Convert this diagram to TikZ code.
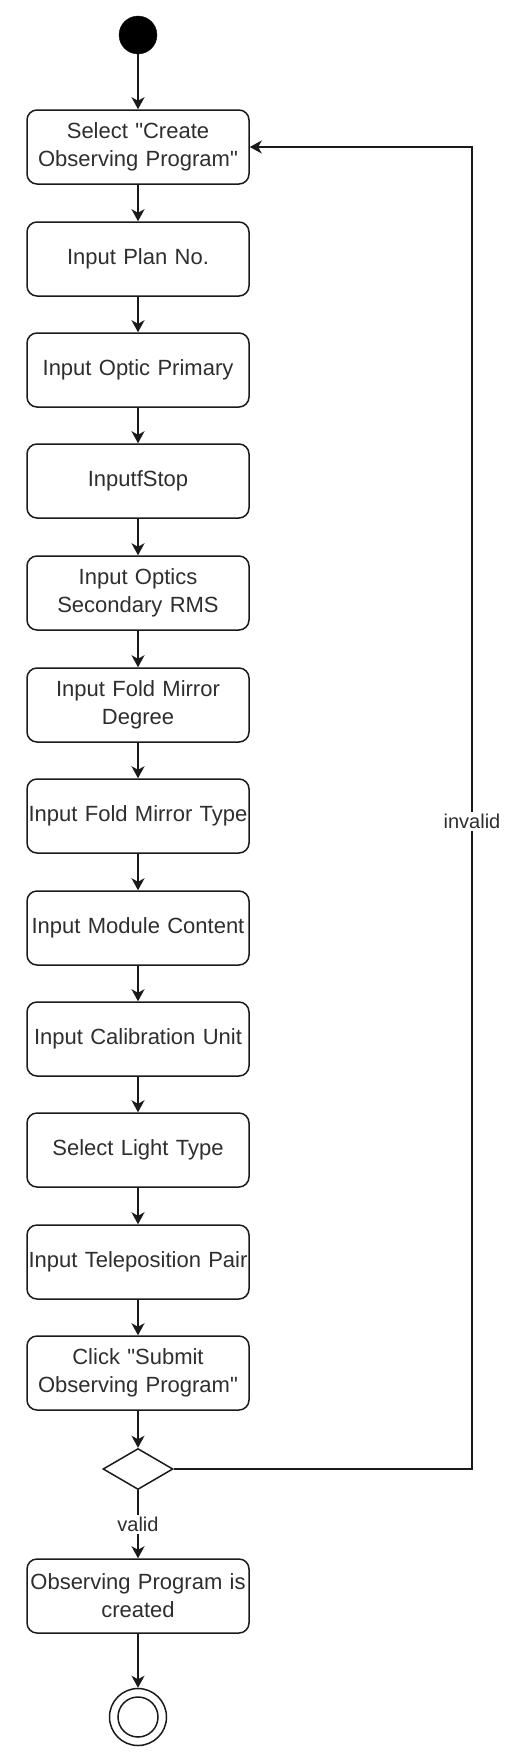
\documentclass[tikz,border=0pt]{standalone}
\usepackage{fontspec}
\newfontfamily\af{Liberation Sans}
\usetikzlibrary{shapes.geometric,arrows.meta}
\definecolor{txt}{HTML}{2E2E2E}
\definecolor{ln}{HTML}{1A1A1A}
\begin{document}
\begin{tikzpicture}[x=1pt,y=-1pt,
  actbox/.style={draw=ln,line width=1.5pt,rounded corners=10pt,minimum width=222pt,minimum height=74pt,inner sep=0pt,align=center,text=txt,font=\af\fontsize{22}{28}\selectfont,text width=222pt},
  flow/.style={draw=ln,line width=1.5pt,-{Stealth[length=12pt,width=13pt,inset=3.5pt]}},
  lbl/.style={fill=white,text=txt,font=\af\fontsize{20}{24}\selectfont,inner sep=2pt}]
\useasboundingbox (0,0) rectangle (520,1756);
\node[circle,fill=black,draw=ln,minimum size=38pt,inner sep=0pt] (start) at (138,35) {};
\node[actbox] (b1) at (138,147) {Select "Create\\Observing Program"};
\node[actbox] (b2) at (138,259) {Input Plan No.};
\node[actbox] (b3) at (138,370) {Input Optic Primary};
\node[actbox] (b4) at (138,481) {InputfStop};
\node[actbox] (b5) at (138,593) {Input Optics\\Secondary RMS};
\node[actbox] (b6) at (138,705) {Input Fold Mirror\\Degree};
\node[actbox] (b7) at (138,816) {Input Fold Mirror Type};
\node[actbox] (b8) at (138,928) {Input Module Content};
\node[actbox] (b9) at (138,1039) {Input Calibration Unit};
\node[actbox] (b10) at (138,1150) {Select Light Type};
\node[actbox] (b11) at (138,1262) {Input Teleposition Pair};
\node[actbox] (b12) at (138,1373) {Click "Submit\\Observing Program"};
\node[diamond,draw=ln,line width=1.5pt,minimum width=70pt,minimum height=41pt,inner sep=0pt] (dec) at (138,1469) {};
\node[actbox] (b13) at (138,1596) {Observing Program is\\created};
\node[circle,draw=ln,line width=1.5pt,minimum size=57pt,inner sep=0pt] (end) at (138,1717) {};
\node[circle,draw=ln,line width=1.5pt,minimum size=40pt,inner sep=0pt] (endin) at (end.center) {};
\draw[flow] (start) -- (b1);
\draw[flow] (b1) -- (b2);
\draw[flow] (b2) -- (b3);
\draw[flow] (b3) -- (b4);
\draw[flow] (b4) -- (b5);
\draw[flow] (b5) -- (b6);
\draw[flow] (b6) -- (b7);
\draw[flow] (b7) -- (b8);
\draw[flow] (b8) -- (b9);
\draw[flow] (b9) -- (b10);
\draw[flow] (b10) -- (b11);
\draw[flow] (b11) -- (b12);
\draw[flow] (b12) -- (dec);
\draw[flow] (dec) -- node[lbl,pos=0.5] {valid} (b13);
\draw[flow] (b13) -- (end);
\coordinate (cr) at (472,1469);
\coordinate (ct) at (472,147);
\draw[flow] (dec.east) -- (cr) -- node[lbl,pos=0.49] {invalid} (ct) -- (b1.east);
\end{tikzpicture}
\end{document}
